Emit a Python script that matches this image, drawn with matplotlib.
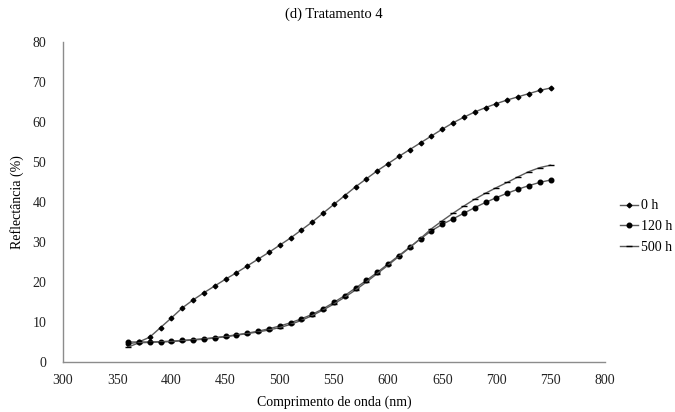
import numpy as np
from matplotlib import pyplot as plt

plt.rcParams['font.family'] = ['Liberation Serif', 'DejaVu Serif']

# wavelength (nm) every 10 nm
wavelength = np.arange(360, 751, 10)

refl_0h = [4.5, 5.0, 6.2, 8.6, 11.0, 13.5, 15.5, 17.3, 19.0, 20.7,
           22.3, 24.0, 25.7, 27.4, 29.2, 31.0, 33.0, 35.0, 37.2, 39.4,
           41.6, 43.8, 45.8, 47.8, 49.6, 51.4, 53.1, 54.8, 56.5, 58.2,
           59.8, 61.2, 62.5, 63.6, 64.6, 65.5, 66.3, 67.1, 67.9, 68.5]

refl_120h = [5.0, 5.0, 5.0, 5.1, 5.2, 5.4, 5.6, 5.8, 6.1, 6.4,
             6.8, 7.2, 7.7, 8.3, 9.0, 9.8, 10.8, 11.9, 13.3, 14.9,
             16.6, 18.5, 20.4, 22.4, 24.5, 26.6, 28.7, 30.8, 32.8, 34.4,
             35.8, 37.2, 38.6, 39.9, 41.1, 42.2, 43.2, 44.1, 44.9, 45.5]

refl_500h = [3.7, 4.8, 4.9, 5.0, 5.1, 5.3, 5.5, 5.7, 6.0, 6.3,
             6.7, 7.1, 7.5, 8.0, 8.6, 9.4, 10.4, 11.6, 13.0, 14.5,
             16.2, 18.0, 20.0, 22.1, 24.2, 26.4, 28.6, 30.9, 33.3, 35.3,
             37.2, 39.0, 40.7, 42.2, 43.6, 44.9, 46.3, 47.6, 48.6, 49.2]

labels = ['0 h', '120 h', '500 h']

fig = plt.figure(figsize=(6.75, 4.12), dpi=100)
ax = fig.add_axes([0.0933, 0.1214, 0.8027, 0.7767])

line_col = '#5a5a5a'
ax.plot(wavelength, refl_0h, color=line_col, lw=1.0, marker='D',
        markersize=2.4, mfc='black', mec='black', label=labels[0])
ax.plot(wavelength, refl_120h, color=line_col, lw=1.0, marker='o',
        markersize=3.3, mfc='black', mec='black', label=labels[1])
ax.plot(wavelength, refl_500h, color=line_col, lw=1.0, marker='_',
        markersize=4, mfc='black', mec='black', label=labels[2])

ax.set_xlim(300, 800)
ax.set_ylim(0, 80)
ax.set_xticks(np.arange(300, 801, 50))
ax.set_yticks(np.arange(0, 81, 10))
ax.tick_params(length=0, labelsize=10, colors='#222222')
ax.tick_params(axis='y', pad=12)
ax.tick_params(axis='x', pad=9)

for s in ['top', 'right']:
    ax.spines[s].set_visible(False)
for s in ['left', 'bottom']:
    ax.spines[s].set_color('#8c8c8c')
    ax.spines[s].set_linewidth(1.0)

ax.set_xlabel('Comprimento de onda (nm)', fontsize=10, labelpad=6)
ax.set_ylabel('Reflectância (%)', fontsize=10, labelpad=6)
fig.text(0.495, 0.965, '(d) Tratamento 4', ha='center', va='center', fontsize=10.5)

fig.legend(loc='center left', bbox_to_anchor=(0.919, 0.45), frameon=False,
           fontsize=10, handlelength=1.3, handletextpad=0.2, labelspacing=0.55,
           borderpad=0, borderaxespad=0)

fig.savefig('out.png', dpi=100)
